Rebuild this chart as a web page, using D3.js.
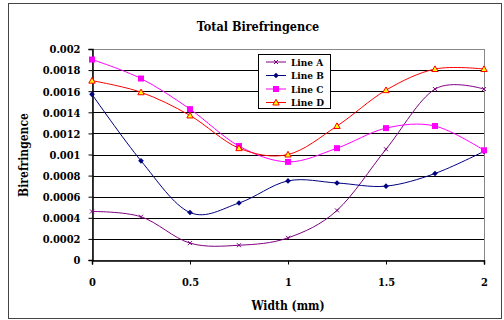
<!DOCTYPE html>
<html>
<head>
<meta charset="utf-8">
<script src="https://cdn.jsdelivr.net/npm/d3@7"></script>
<style>
  body { margin: 0; background: #fff; }
  text { font-stretch: condensed; }
</style>
</head>
<body>
<div id="chart"></div>
<script>
var widths = [0, 0.25, 0.5, 0.75, 1, 1.25, 1.5, 1.75, 2];
var lineA = [0.00046, 0.00041, 0.00016, 0.00014, 0.00021, 0.00047, 0.00105, 0.00162, 0.00162];
var lineB = [0.00157, 0.00094, 0.00045, 0.00054, 0.00075, 0.00073, 0.00070, 0.00082, 0.00103];
var lineC = [0.00190, 0.00172, 0.00143, 0.00108, 0.00093, 0.00106, 0.00125, 0.00127, 0.00104];
var lineD = [0.00170, 0.00159, 0.00137, 0.00106, 0.00100, 0.00127, 0.00161, 0.00181, 0.00181];
var seriesNames = ["Line A", "Line B", "Line C", "Line D"];
var yTicks = [0, 0.0002, 0.0004, 0.0006, 0.0008, 0.001, 0.0012, 0.0014, 0.0016, 0.0018, 0.002];
var xTicks = [0, 0.5, 1, 1.5, 2];

var FONT = "DejaVu Serif";
var W = 504, H = 320;
var margin = {top: 49, left: 92},
    width = 484 - margin.left,
    height = 260 - margin.top;

var svg = d3.select("#chart").append("svg")
    .attr("width", W)
    .attr("height", H);

// outer frame
svg.append("rect")
    .attr("x", 8.5).attr("y", 3.5)
    .attr("width", 493).attr("height", 315)
    .attr("fill", "none")
    .attr("stroke", "#444")
    .attr("stroke-width", 1);

var g = svg.append("g")
    .attr("transform", "translate(" + margin.left + "," + margin.top + ")");

var x = d3.scaleLinear().domain([0, 2]).range([0, width]);
var y = d3.scaleLinear().domain([0, 0.002]).range([height, 0]);

// grid
g.selectAll(".grid")
    .data(yTicks.slice(1))
  .enter().append("line")
    .attr("x1", 0).attr("x2", width)
    .attr("y1", function(d){ return Math.round(y(d)) + 0.5; })
    .attr("y2", function(d){ return Math.round(y(d)) + 0.5; })
    .attr("stroke", "#000")
    .attr("stroke-width", 1);

// plot border right/top
g.append("rect")
    .attr("x", 0.5).attr("y", 0.5)
    .attr("width", width).attr("height", height)
    .attr("fill", "none")
    .attr("stroke", "#888");

var yAxis = g.append("g")
    .attr("transform", "translate(0.5,0)")
    .call(d3.axisLeft(y).tickValues(yTicks).tickSize(4).tickPadding(8)
      .tickFormat(function(d){ return d === 0 ? "0" : String(+d.toFixed(4)); }));
yAxis.selectAll("text").attr("dy", "0.35em");

var xAxis = g.append("g")
    .attr("transform", "translate(0," + (height + 0.5) + ")")
    .call(d3.axisBottom(x).tickValues(xTicks).tickSize(4).tickPadding(14)
      .tickFormat(function(d){ return String(d); }));
g.selectAll("g").attr("font-family", FONT);
g.selectAll(".tick text")
    .attr("font-family", FONT).attr("font-weight", "bold").attr("font-size", "11px").attr("fill", "#000");
g.selectAll(".domain").attr("stroke", "#000").attr("stroke-width", 1.5);
g.selectAll(".tick line").attr("stroke", "#000");

var allSeries = [
  {name: seriesNames[0], values: lineA, color: "#800080", marker: "x"},
  {name: seriesNames[1], values: lineB, color: "#000080", marker: "diamond"},
  {name: seriesNames[2], values: lineC, color: "#ff00ff", marker: "square"},
  {name: seriesNames[3], values: lineD, color: "#ff0000", marker: "triangle"}
];

var valueline = d3.line()
    .curve(d3.curveCardinal.tension(0))
    .x(function(d){ return x(d[0]); })
    .y(function(d){ return y(d[1]); });

function drawMarker(sel, type, color) {
  if (type === "x") {
    sel.append("path").attr("d", "M-2,-2L2,2M-2,2L2,-2")
      .attr("stroke", color).attr("stroke-width", 1).attr("fill", "none");
  } else if (type === "diamond") {
    sel.append("path").attr("d", "M0,-2.8L2.8,0L0,2.8L-2.8,0Z").attr("fill", color);
  } else if (type === "square") {
    sel.append("rect").attr("x", -3).attr("y", -3).attr("width", 6).attr("height", 6).attr("fill", color);
  } else {
    sel.append("path").attr("d", "M0,-3.2L3.2,2.5L-3.2,2.5Z")
      .attr("fill", "#ffff00").attr("stroke", color).attr("stroke-width", 1);
  }
}

allSeries.forEach(function(s){
  var pts = widths.map(function(w, i){ return [w, s.values[i]]; });
  g.append("path")
      .datum(pts)
      .attr("fill", "none")
      .attr("stroke", s.color)
      .attr("stroke-width", 1)
      .attr("d", valueline);
  pts.forEach(function(p){
    var m = g.append("g").attr("transform", "translate(" + x(p[0]) + "," + y(p[1]) + ")");
    drawMarker(m, s.marker, s.color);
  });
});

// legend
var legend = svg.append("g").attr("transform", "translate(258,54)");
legend.append("rect")
    .attr("x", 0.5).attr("y", 0.5)
    .attr("width", 72).attr("height", 54)
    .attr("fill", "#fff").attr("stroke", "#000");
allSeries.forEach(function(s, i){
  var ly = 8 + i * 13.5;
  legend.append("line")
      .attr("x1", 8).attr("x2", 28)
      .attr("y1", ly).attr("y2", ly)
      .attr("stroke", s.color).attr("stroke-width", 1);
  var m = legend.append("g").attr("transform", "translate(18," + ly + ")");
  drawMarker(m, s.marker, s.color);
  legend.append("text")
      .attr("x", 33).attr("y", ly)
      .attr("dy", "0.35em")
      .attr("font-family", FONT).attr("font-weight", "bold")
      .attr("font-size", "10px")
      .text(s.name);
});

// title and axis labels
svg.append("text")
    .attr("x", 258).attr("y", 31)
    .attr("text-anchor", "middle")
    .attr("font-family", FONT).attr("font-weight", "bold")
    .attr("font-size", "12.5px")
    .text("Total Birefringence");

svg.append("text")
    .attr("x", 288).attr("y", 310)
    .attr("text-anchor", "middle")
    .attr("font-family", FONT).attr("font-weight", "bold")
    .attr("font-size", "12px")
    .text("Width (mm)");

svg.append("text")
    .attr("transform", "translate(28,155) rotate(-90)")
    .attr("text-anchor", "middle")
    .attr("font-family", FONT).attr("font-weight", "bold")
    .attr("font-size", "12px")
    .text("Birefringence");
</script>
</body>
</html>
